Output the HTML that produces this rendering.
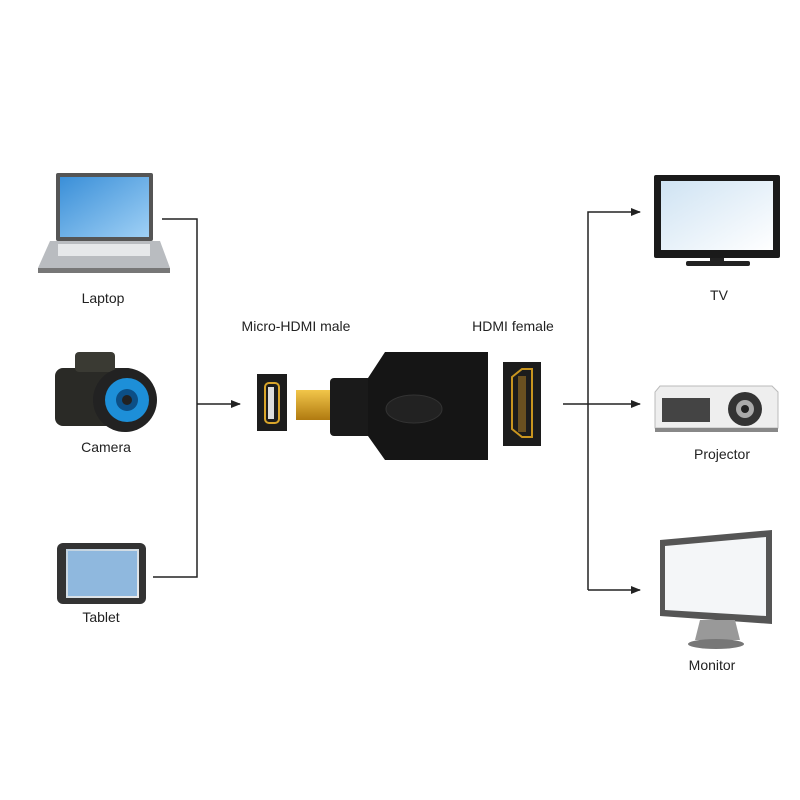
<!DOCTYPE html>
<html><head><meta charset="utf-8"><style>
html,body{margin:0;padding:0;background:#fff;}
svg{display:block}
text{font-family:"Liberation Sans","DejaVu Sans",sans-serif;font-size:14px;fill:#222;text-anchor:middle}
</style></head><body>
<svg width="800" height="800" viewBox="0 0 800 800" xmlns="http://www.w3.org/2000/svg">
<defs>
<marker id="ar" markerWidth="10" markerHeight="10" refX="9" refY="5" orient="auto" markerUnits="userSpaceOnUse"><path d="M0,1 L10,5 L0,9 Z" fill="#222"/></marker>
<linearGradient id="scr" x1="0" y1="0" x2="1" y2="1"><stop offset="0" stop-color="#3a8fd8"/><stop offset="1" stop-color="#9fd0f5"/></linearGradient>
<linearGradient id="wscr" x1="0" y1="0" x2="1" y2="1"><stop offset="0" stop-color="#cfe3f3"/><stop offset="1" stop-color="#ffffff"/></linearGradient>
<linearGradient id="gold" x1="0" y1="0" x2="0" y2="1"><stop offset="0" stop-color="#f2c64a"/><stop offset="1" stop-color="#b07a10"/></linearGradient>
</defs>
<!-- connectors -->
<g stroke="#222" stroke-width="1.5" fill="none">
<path d="M162,219 H197 V577 H153"/>
<path d="M197,404 H240" marker-end="url(#ar)"/>
<path d="M563,404 H640" marker-end="url(#ar)"/>
<path d="M588,590 V212 H640" marker-end="url(#ar)"/>
<path d="M588,590 H640" marker-end="url(#ar)"/>
</g>
<!-- laptop -->
<rect x="56" y="173" width="97" height="68" rx="2" fill="#555"/>
<rect x="60" y="177" width="89" height="60" fill="url(#scr)"/>
<path d="M50,241 H160 L170,268 H38 Z" fill="#b9bcc0"/>
<rect x="58" y="244" width="92" height="12" fill="#e6e8ea"/>
<rect x="38" y="268" width="132" height="5" fill="#777"/>
<!-- camera -->
<rect x="55" y="368" width="80" height="58" rx="8" fill="#2a2a26"/>
<rect x="75" y="352" width="40" height="20" rx="4" fill="#3a3a33"/>
<circle cx="125" cy="400" r="32" fill="#222"/>
<circle cx="127" cy="400" r="22" fill="#1d8fd8"/>
<circle cx="127" cy="400" r="11" fill="#0c4f86"/>
<circle cx="127" cy="400" r="5" fill="#222"/>
<!-- tablet -->
<rect x="57" y="543" width="89" height="61" rx="6" fill="#333"/>
<rect x="66" y="549" width="73" height="49" fill="url(#wscr)" opacity="0.9"/>
<rect x="68" y="551" width="69" height="45" fill="#8fb8de"/>
<!-- micro port -->
<rect x="257" y="374" width="30" height="57" fill="#1c1c1c"/>
<rect x="265" y="383" width="14" height="40" rx="4" fill="none" stroke="#d9a52b" stroke-width="2"/>
<rect x="268" y="387" width="6" height="32" fill="#ddd"/>
<!-- adapter -->
<rect x="296" y="390" width="36" height="30" fill="url(#gold)"/>
<rect x="330" y="378" width="60" height="58" rx="4" fill="#1a1a1a"/>
<path d="M368,378 L385,352 H488 V460 H385 L368,436 Z" fill="#151515"/>
<ellipse cx="414" cy="409" rx="28" ry="14" fill="#222" stroke="#333"/>
<!-- female port -->
<rect x="503" y="362" width="38" height="84" fill="#1c1c1c"/>
<path d="M512,377 L522,369 H532 V437 H522 L512,429 Z" fill="none" stroke="#c9951f" stroke-width="2"/>
<rect x="518" y="376" width="8" height="56" fill="#6a5020"/>
<!-- TV -->
<rect x="654" y="175" width="126" height="83" rx="2" fill="#1a1a1a"/>
<rect x="661" y="181" width="112" height="69" fill="url(#wscr)"/>
<rect x="710" y="258" width="14" height="4" fill="#222"/>
<rect x="686" y="261" width="64" height="5" rx="2" fill="#222"/>
<!-- projector -->
<path d="M660,386 H772 L778,392 V428 H655 V392 Z" fill="#eeeeee" stroke="#bbb"/>
<rect x="662" y="398" width="48" height="24" fill="#444"/>
<circle cx="745" cy="409" r="17" fill="#333"/>
<circle cx="745" cy="409" r="9" fill="#aaa"/>
<circle cx="745" cy="409" r="4" fill="#222"/>
<rect x="655" y="428" width="123" height="4" fill="#888"/>
<!-- monitor -->
<path d="M660,540 L772,530 V624 L660,616 Z" fill="#555"/>
<path d="M665,546 L766,537 V616 L665,610 Z" fill="#f4f6f8"/>
<path d="M700,620 H735 L740,640 H695 Z" fill="#999"/>
<ellipse cx="716" cy="644" rx="28" ry="5" fill="#777"/>
<!-- labels -->
<text x="103" y="303">Laptop</text>
<text x="106" y="452">Camera</text>
<text x="101" y="622">Tablet</text>
<text x="296" y="331">Micro-HDMI male</text>
<text x="513" y="331">HDMI female</text>
<text x="719" y="300">TV</text>
<text x="722" y="459">Projector</text>
<text x="712" y="670">Monitor</text>
</svg>
</body></html>
